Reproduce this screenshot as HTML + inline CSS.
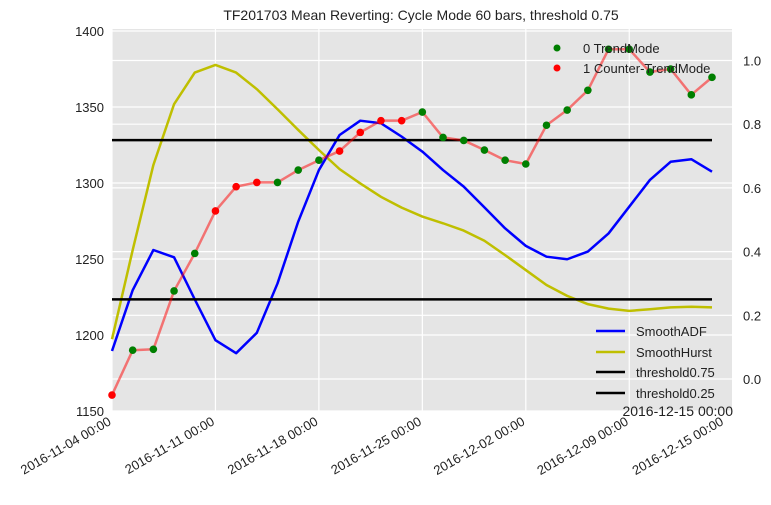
<!DOCTYPE html>
<html><head><meta charset="utf-8">
<style>
body{margin:0;background:#fff;}
svg{font-family:"Liberation Sans","DejaVu Sans",sans-serif;}
</style></head>
<body>
<svg id="chart" width="771" height="500" xmlns="http://www.w3.org/2000/svg">
<rect x="112" y="29" width="620" height="382" fill="#e5e5e5"/>
<g id="grid"></g>
<g id="series"></g>
<g id="axes"></g>
<text x="421" y="20" font-size="14" text-anchor="middle" fill="#222">TF201703 Mean Reverting: Cycle Mode 60 bars, threshold 0.75</text>
<text x="733" y="416" font-size="14" text-anchor="end" fill="#222">2016-12-15 00:00</text>
</svg>
<script>
const price = [1160.5,1190,1190.6,1229,1253.7,1281.6,1297.6,1300.4,1300.4,1308.5,1315,1321,1333.3,1341,1341,1346.7,1330,1328,1321.7,1315,1312.5,1338,1348,1361,1388,1388,1373,1375,1358,1369.5];
const mode = [1,0,0,0,0,1,1,1,0,0,0,1,1,1,1,0,0,0,0,0,0,0,0,0,0,0,0,0,0,0];
const adf = [0.088,0.279,0.405,0.382,0.25,0.122,0.081,0.145,0.30,0.494,0.656,0.766,0.811,0.803,0.761,0.714,0.656,0.604,0.539,0.473,0.418,0.384,0.376,0.40,0.457,0.541,0.625,0.682,0.69,0.651];
const hurst = [0.125,0.405,0.672,0.863,0.962,0.986,0.962,0.91,0.847,0.782,0.719,0.659,0.614,0.572,0.538,0.51,0.489,0.466,0.434,0.389,0.342,0.295,0.261,0.235,0.221,0.214,0.219,0.225,0.227,0.225];
const thresholds = [0.75,0.25];
const leftTicks = [1150,1200,1250,1300,1350,1400];
const rightTicks = [0.0,0.2,0.4,0.6,0.8,1.0];
const dateLabels = ["2016-11-04 00:00","2016-11-11 00:00","2016-11-18 00:00","2016-11-25 00:00","2016-12-02 00:00","2016-12-09 00:00","2016-12-15 00:00"];
const dateIdx = [0,5,10,15,20,25,29.6];

const NS="http://www.w3.org/2000/svg";
const xs = i => 112 + i*(600/29);
const yl = v => 31 + (1400-v)*1.52;
const yr = v => 379 - v*318.5;
function mk(tag, attrs, parent){const e=document.createElementNS(NS,tag);for(const k in attrs)e.setAttribute(k,attrs[k]);parent.appendChild(e);return e;}
const grid=document.getElementById('grid'), ser=document.getElementById('series'), ax=document.getElementById('axes');

leftTicks.forEach(t=>{
  const g=mk('line',{x1:112,x2:732,y1:yl(t),y2:yl(t),stroke:'#fff','stroke-width':1.2},grid);
  
  
  const l=mk('text',{x:104,y:yl(t)+5,'font-size':13,'text-anchor':'end',fill:'#222'},ax);
  l.textContent=t;
  
  
});
rightTicks.forEach(t=>{
  const g=mk('line',{x1:112,x2:732,y1:yr(t),y2:yr(t),stroke:'#fff','stroke-width':1.2},grid);
  
  
  const l=mk('text',{x:743,y:yr(t)+5,'font-size':13,fill:'#222'},ax);
  l.textContent=t.toFixed(1);
  
  
});
dateIdx.forEach((d,k)=>{
  const x=xs(d);
  if(k<dateIdx.length-1){
    const g=mk('line',{x1:x,x2:x,y1:29,y2:411,stroke:'#fff','stroke-width':1.2},grid);
    
    
  }
  const l=mk('text',{x:x,y:424,'font-size':13,'text-anchor':'end',fill:'#222',transform:`rotate(-30 ${x} 424)`},ax);
  l.textContent=dateLabels[k];
  
  
});

function poly(arr, yf, color, w, op, name){
  const p=mk('polyline',{points:arr.map((v,i)=>xs(i)+','+yf(v)).join(' '),fill:'none',stroke:color,'stroke-width':w,'stroke-opacity':op,'stroke-linejoin':'round'},ser);
  
  
}
poly(hurst, yr, '#bfbf00', 2.5, 1, 'smooth-hurst-line');
poly(adf, yr, '#0000ff', 2.5, 1, 'smooth-adf-line');
thresholds.forEach(t=>{
  const l=mk('line',{x1:112,x2:712,y1:yr(t),y2:yr(t),stroke:'#000','stroke-width':2.5},ser);
  
  
});
poly(price, yl, '#ff0000', 2.5, 0.5, 'price-line');
price.forEach((v,i)=>{
  const c=mk('circle',{cx:xs(i),cy:yl(v),r:3.8,fill:mode[i]?'#ff0000':'#007f00'},ser);
  
  
});

// legends
const lg=[['0 TrendMode','#007f00',48],['1 Counter-TrendMode','#ff0000',68]];
lg.forEach(e=>{
  const c=mk('circle',{cx:557,cy:e[2],r:3.5,fill:e[1]},ax);
  
  
  const t=mk('text',{x:583,y:e[2]+5,'font-size':13,fill:'#222'},ax);
  t.textContent=e[0];
  
  
});
const lg2=[['SmoothADF','#0000ff',331],['SmoothHurst','#bfbf00',352],['threshold0.75','#000',372],['threshold0.25','#000',393]];
lg2.forEach(e=>{
  const l=mk('line',{x1:596,x2:625,y1:e[2],y2:e[2],stroke:e[1],'stroke-width':2.5},ax);
  
  
  const t=mk('text',{x:636,y:e[2]+5,'font-size':13,fill:'#222'},ax);
  t.textContent=e[0];
  
  
});
</script>
</body></html>
